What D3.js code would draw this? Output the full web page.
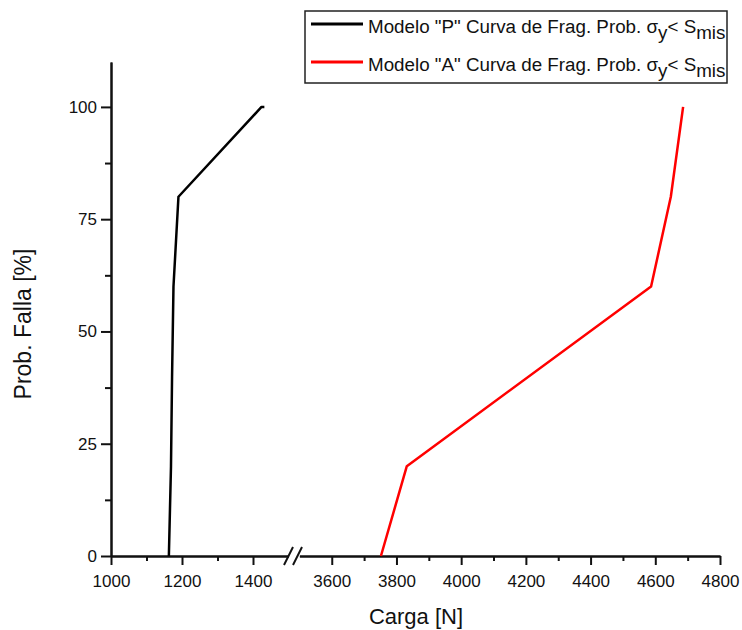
<!DOCTYPE html>
<html>
<head>
<meta charset="utf-8">
<script src="https://cdn.jsdelivr.net/npm/d3@7/dist/d3.min.js"></script>
<style>
  body { margin: 0; background: #fff; }
  text { font-family: "Liberation Sans", Arial, sans-serif; fill: #111; }
</style>
</head>
<body>
<svg width="742" height="630"></svg>
<script>
// data
var probP = [0, 20, 40, 60, 80, 100, 100];
var cargaP = [1163, 1169, 1172, 1176, 1190, 1424, 1432];
var probA = [0, 20, 60, 80, 100];
var cargaA = [3752, 3832, 4587, 4648, 4686];

var leftMajor = [1000, 1200, 1400];
var leftMinor = [1100, 1300];
var rightMajor = [3600, 3800, 4000, 4200, 4400, 4600, 4800];
var rightMinor = [3700, 3900, 4100, 4300, 4500, 4700];
var yMajor = [0, 25, 50, 75, 100];
var yMinor = [12.5, 37.5, 62.5, 87.5];

var svg = d3.select("svg");

// broken x axis: two scales
var xLeft = d3.scaleLinear().domain([1000, 1500]).range([111, 288.5]);
var xRight = d3.scaleLinear().domain([3500, 4800]).range([299.4, 720]);
var y = d3.scaleLinear().domain([0, 110]).range([556, 62]);

function addAxis(g, axis) {
  g.call(axis);
  g.selectAll("path.domain").attr("stroke", "#111").attr("stroke-width", 2);
  g.selectAll(".tick line").attr("stroke", "#111").attr("stroke-width", 2);
  g.selectAll(".tick text").attr("font-size", 17).attr("font-family", "Liberation Sans, Arial, sans-serif").attr("fill", "#111");
}

// minor ticks first
var gx1m = svg.append("g").attr("transform", "translate(0,556)");
addAxis(gx1m, d3.axisBottom(xLeft).tickValues(leftMinor).tickSize(5).tickSizeOuter(0).tickFormat(""));
var gx2m = svg.append("g").attr("transform", "translate(0,556)");
addAxis(gx2m, d3.axisBottom(xRight).tickValues(rightMinor).tickSize(5).tickSizeOuter(0).tickFormat(""));
var gym = svg.append("g").attr("transform", "translate(111,0)");
addAxis(gym, d3.axisLeft(y).tickValues(yMinor).tickSize(6).tickSizeOuter(0).tickFormat(""));

var gx1 = svg.append("g").attr("transform", "translate(0,556)");
addAxis(gx1, d3.axisBottom(xLeft).tickValues(leftMajor).tickSize(9).tickSizeOuter(0).tickPadding(10).tickFormat(d3.format("d")));
var gx2 = svg.append("g").attr("transform", "translate(0,556)");
addAxis(gx2, d3.axisBottom(xRight).tickValues(rightMajor).tickSize(9).tickSizeOuter(0).tickPadding(10).tickFormat(d3.format("d")));
var gy = svg.append("g").attr("transform", "translate(111,0)");
addAxis(gy, d3.axisLeft(y).tickValues(yMajor).tickSize(10).tickSizeOuter(0).tickPadding(4));

// break marks
[[284, 293], [293, 302]].forEach(function (s) {
  svg.append("line")
    .attr("x1", s[0]).attr("y1", 565).attr("x2", s[1]).attr("y2", 547)
    .attr("stroke", "#111").attr("stroke-width", 2);
});

// series
var lineP = d3.line().x(function (d) { return xLeft(d[0]); }).y(function (d) { return y(d[1]); });
var lineA = d3.line().x(function (d) { return xRight(d[0]); }).y(function (d) { return y(d[1]); });

svg.append("path")
  .datum(d3.zip(cargaP, probP))
  .attr("d", lineP)
  .attr("fill", "none").attr("stroke", "#000").attr("stroke-width", 2.5)
  .attr("stroke-linejoin", "round");

svg.append("path")
  .datum(d3.zip(cargaA, probA))
  .attr("d", lineA)
  .attr("fill", "none").attr("stroke", "#ff0000").attr("stroke-width", 2.5)
  .attr("stroke-linejoin", "round");

// axis titles
svg.append("text")
  .attr("x", 416).attr("y", 624)
  .attr("text-anchor", "middle").attr("font-size", 22)
  .text("Carga [N]");

svg.append("text")
  .attr("transform", "translate(31,324) rotate(-90)")
  .attr("text-anchor", "middle").attr("font-size", 23)
  .text("Prob. Falla [%]");

// legend
var legend = svg.append("g");
legend.append("rect")
  .attr("x", 305).attr("y", 11).attr("width", 422).attr("height", 72)
  .attr("fill", "#fff").attr("stroke", "#222").attr("stroke-width", 1.5);

var legendItems = [
  { name: "Modelo \"P\" Curva de Frag. Prob. ", color: "#000", y: 24 },
  { name: "Modelo \"A\" Curva de Frag. Prob. ", color: "#ff0000", y: 62 }
];

legendItems.forEach(function (it) {
  legend.append("line")
    .attr("x1", 311).attr("x2", 363).attr("y1", it.y).attr("y2", it.y)
    .attr("stroke", it.color).attr("stroke-width", 3);
  var t = legend.append("text")
    .attr("x", 368).attr("y", it.y + 9)
    .attr("font-size", 18.8);
  t.append("tspan").text(it.name + "\u03c3");
  t.append("tspan").attr("dy", 6).text("y");
  t.append("tspan").attr("dy", -6).text("< S");
  t.append("tspan").attr("dy", 6).text("mis");
});
</script>
</body>
</html>
